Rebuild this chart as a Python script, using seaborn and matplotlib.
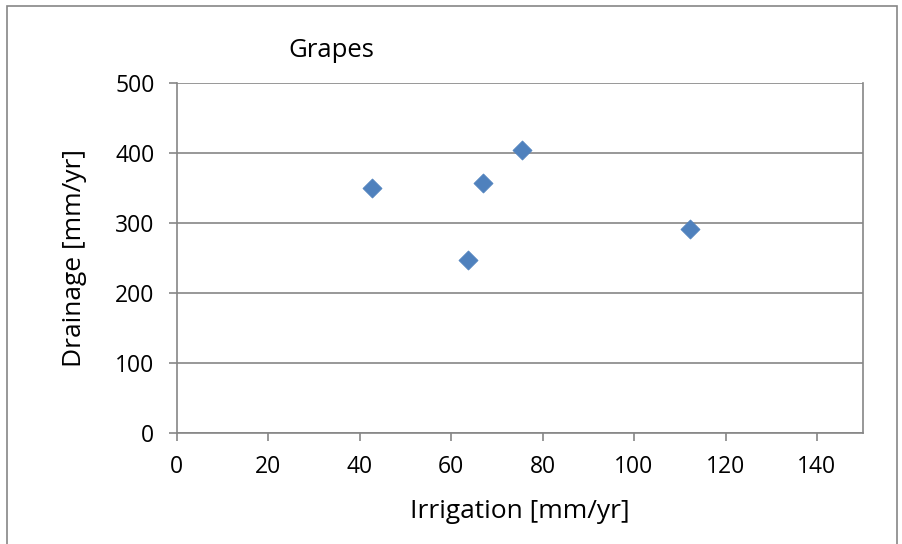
import matplotlib
matplotlib.use("Agg")
import matplotlib.pyplot as plt
import seaborn as sns
import pandas as pd
from matplotlib.patches import Rectangle

# Grapes: irrigation vs. drainage
irrigation = [42.7, 63.7, 67.0, 75.4, 112.3]
drainage = [350, 248, 358, 405, 291]
x_ticks = [0, 20, 40, 60, 80, 100, 120, 140]
y_ticks = [0, 100, 200, 300, 400, 500]

df = pd.DataFrame({"Irrigation": irrigation, "Drainage": drainage})

sns.set_theme(style="white")
plt.rcParams["font.family"] = ["Open Sans", "DejaVu Sans"]

fig = plt.figure(figsize=(9.02, 5.44), dpi=100)
ax = fig.add_axes([176.7 / 902, 1 - 433 / 544, (862.7 - 176.7) / 902, (433 - 83.3) / 544])

grid_c = "#868686"
ax.set_axisbelow(True)
ax.yaxis.grid(True, color=grid_c, linewidth=1.2)
ax.xaxis.grid(False)

sns.scatterplot(data=df, x="Irrigation", y="Drainage", marker="D", s=95,
                color="#4F81BD", edgecolor="#4F81BD", linewidth=0.5, ax=ax, zorder=3)

ax.set_xlim(0, 150)
ax.set_ylim(0, 500)
ax.set_xticks(x_ticks)
ax.set_yticks(y_ticks)
ax.tick_params(axis="both", labelsize=16.5, colors="black", length=6, width=1.2,
               color=grid_c, direction="out")
ax.tick_params(axis="x", bottom=True, pad=10)
ax.tick_params(axis="y", left=True, pad=10)

for side in ["left", "bottom", "right"]:
    ax.spines[side].set_visible(True)
    ax.spines[side].set_color(grid_c)
    ax.spines[side].set_linewidth(1.2)
ax.spines["top"].set_visible(False)

ax.set_xlabel("Irrigation [mm/yr]", fontsize=19, labelpad=14, color="black")
ax.set_ylabel("Drainage [mm/yr]", fontsize=19, labelpad=20, color="black")
ax.set_title("Grapes", fontsize=18.5, x=0.225, y=1.05, loc="center", color="black")

# outer chart frame
fig.patches.append(Rectangle((7.5 / 902, -0.1), (897 - 7.5) / 902, 1 - 6.5 / 544 + 0.1,
                             transform=fig.transFigure, fill=False,
                             edgecolor="#868686", linewidth=1.2))

fig.savefig("out.png", dpi=100)
